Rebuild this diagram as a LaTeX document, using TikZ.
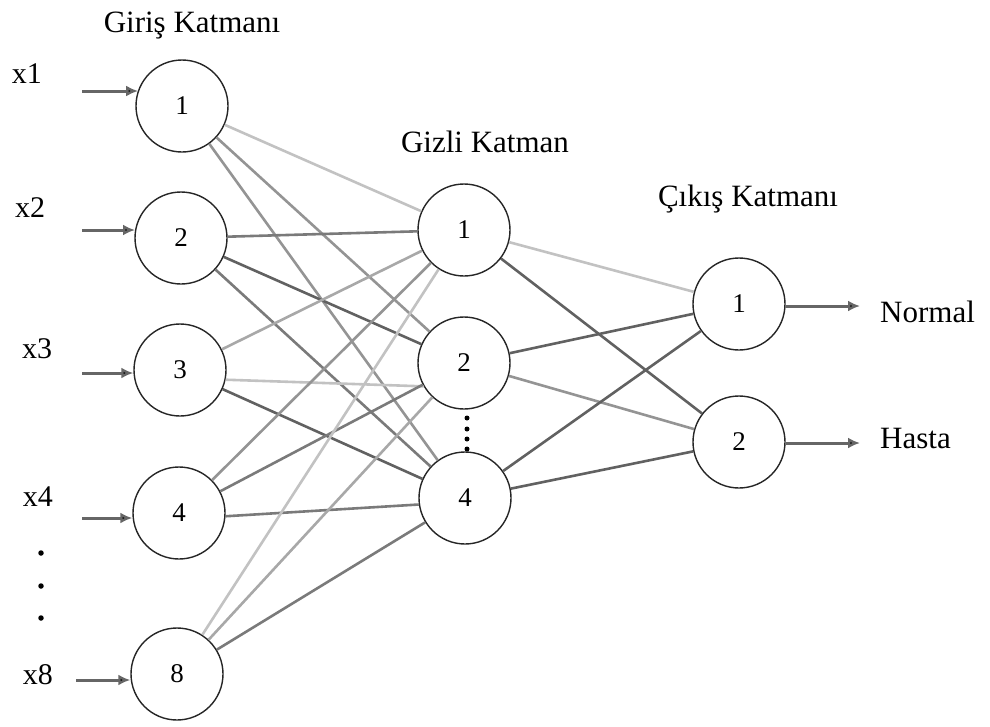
\documentclass[tikz,border=0pt]{standalone}
\usepackage{fontspec}
\setmainfont{Liberation Serif}
\usetikzlibrary{arrows.meta}
\definecolor{eLight}{gray}{0.76}
\definecolor{eLightMed}{gray}{0.66}
\definecolor{eMed}{gray}{0.58}
\definecolor{eMedDark}{gray}{0.48}
\definecolor{eDark}{gray}{0.38}
\tikzset{
  neuron/.style={circle, draw=black!85, line width=1.4pt, fill=white, minimum size=92pt, inner sep=0pt, font=\fontsize{27}{30}\selectfont},
  edge/.style={line width=2.6pt},
  inarrow/.style={line width=3pt, draw=black!60, -{Latex[length=12pt,width=11pt,fill=black]}},
  title/.style={font=\fontsize{31}{34}\selectfont, text=black, anchor=base, inner sep=0pt},
  xlabel/.style={font=\fontsize{30}{32}\selectfont, text=black, anchor=base, inner sep=0pt},
  outlabel/.style={font=\fontsize{31}{34}\selectfont, text=black, anchor=base west, inner sep=0pt},
  dotmark/.style={circle, fill=black, inner sep=0pt, minimum size=5.5pt}
}
\begin{document}
\begin{tikzpicture}[x=1pt,y=-1pt]
\useasboundingbox (0,0) rectangle (990,726);
% titles
\node[title] (t1) at (192,32) {Giriş Katmanı};
\node[title] (t2) at (485,152) {Gizli Katman};
\node[title] (t3) at (748,206) {Çıkış Katmanı};
% input neurons
\node[neuron] (i1) at (182,106) {1};
\node[neuron] (i2) at (181,238) {2};
\node[neuron] (i3) at (180,370) {3};
\node[neuron] (i4) at (179,513) {4};
\node[neuron] (i8) at (177,674) {8};
% hidden neurons
\node[neuron] (h1) at (464,230) {1};
\node[neuron] (h2) at (464,363) {2};
\node[neuron] (h4) at (465,498) {4};
% output neurons
\node[neuron] (o1) at (739,304) {1};
\node[neuron] (o2) at (739,442) {2};
% input labels
\node[xlabel] (lx1) at (27,83) {x1};
\node[xlabel] (lx2) at (30,217) {x2};
\node[xlabel] (lx3) at (37,358) {x3};
\node[xlabel] (lx4) at (38,506) {x4};
\node[xlabel] (lx8) at (38,684) {x8};
\node[dotmark] (d1) at (41,553) {};
\node[dotmark] (d2) at (41,586) {};
\node[dotmark] (d3) at (41,618) {};
% hidden dots
\node[dotmark, minimum size=5pt] (hd1) at (467,418) {};
\node[dotmark, minimum size=5pt] (hd2) at (467,429) {};
\node[dotmark, minimum size=5pt] (hd3) at (467,439) {};
\node[dotmark, minimum size=5pt] (hd4) at (467,449) {};
% input arrows
\coordinate (a1) at (82,91);
\coordinate (a2) at (82,230);
\coordinate (a3) at (82,373);
\coordinate (a4) at (82,518);
\coordinate (a8) at (76,680);
\draw[inarrow] (a1) -- (a1 -| i1.160);
\draw[inarrow] (a2) -- (a2 -| i2.170);
\draw[inarrow] (a3) -- (i3.west |- a3);
\draw[inarrow] (a4) -- (i4.west |- a4);
\draw[inarrow] (a8) -- (i8.west |- a8);
% input -> hidden
\draw[edge, eLight] (i1) -- (h1);
\draw[edge, eMed] (i1) -- (h2);
\draw[edge, eMed] (i1) -- (h4);
\draw[edge, eMedDark] (i2) -- (h1);
\draw[edge, eDark] (i2) -- (h2);
\draw[edge, eMedDark] (i2) -- (h4);
\draw[edge, eLightMed] (i3) -- (h1);
\draw[edge, eLight] (i3.-12) -- (h2.-150);
\draw[edge, eDark] (i3) -- (h4);
\draw[edge, eMed] (i4) -- (h1);
\draw[edge, eMedDark] (i4) -- (h2);
\draw[edge, eMedDark] (i4.-4) -- (h4.-172);
\draw[edge, eLight] (i8) -- (h1);
\draw[edge, eLightMed] (i8) -- (h2);
\draw[edge, eMedDark] (i8) -- (h4);
% hidden -> output
\draw[edge, eLight] (h1) -- (o1);
\draw[edge, eDark] (h1) -- (o2);
\draw[edge, eDark] (h2) -- (o1);
\draw[edge, eMed] (h2) -- (o2);
\draw[edge, eDark] (h4) -- (o1);
\draw[edge, eDark] (h4) -- (o2);
% output arrows
\coordinate (b1) at (860,306);
\coordinate (b2) at (860,443);
\draw[inarrow] (o1.east |- b1) -- (b1);
\draw[inarrow] (o2.east |- b2) -- (b2);
\node[outlabel] (n1) at (880,322) {Normal};
\node[outlabel] (n2) at (880,448) {Hasta};
\end{tikzpicture}
\end{document}
